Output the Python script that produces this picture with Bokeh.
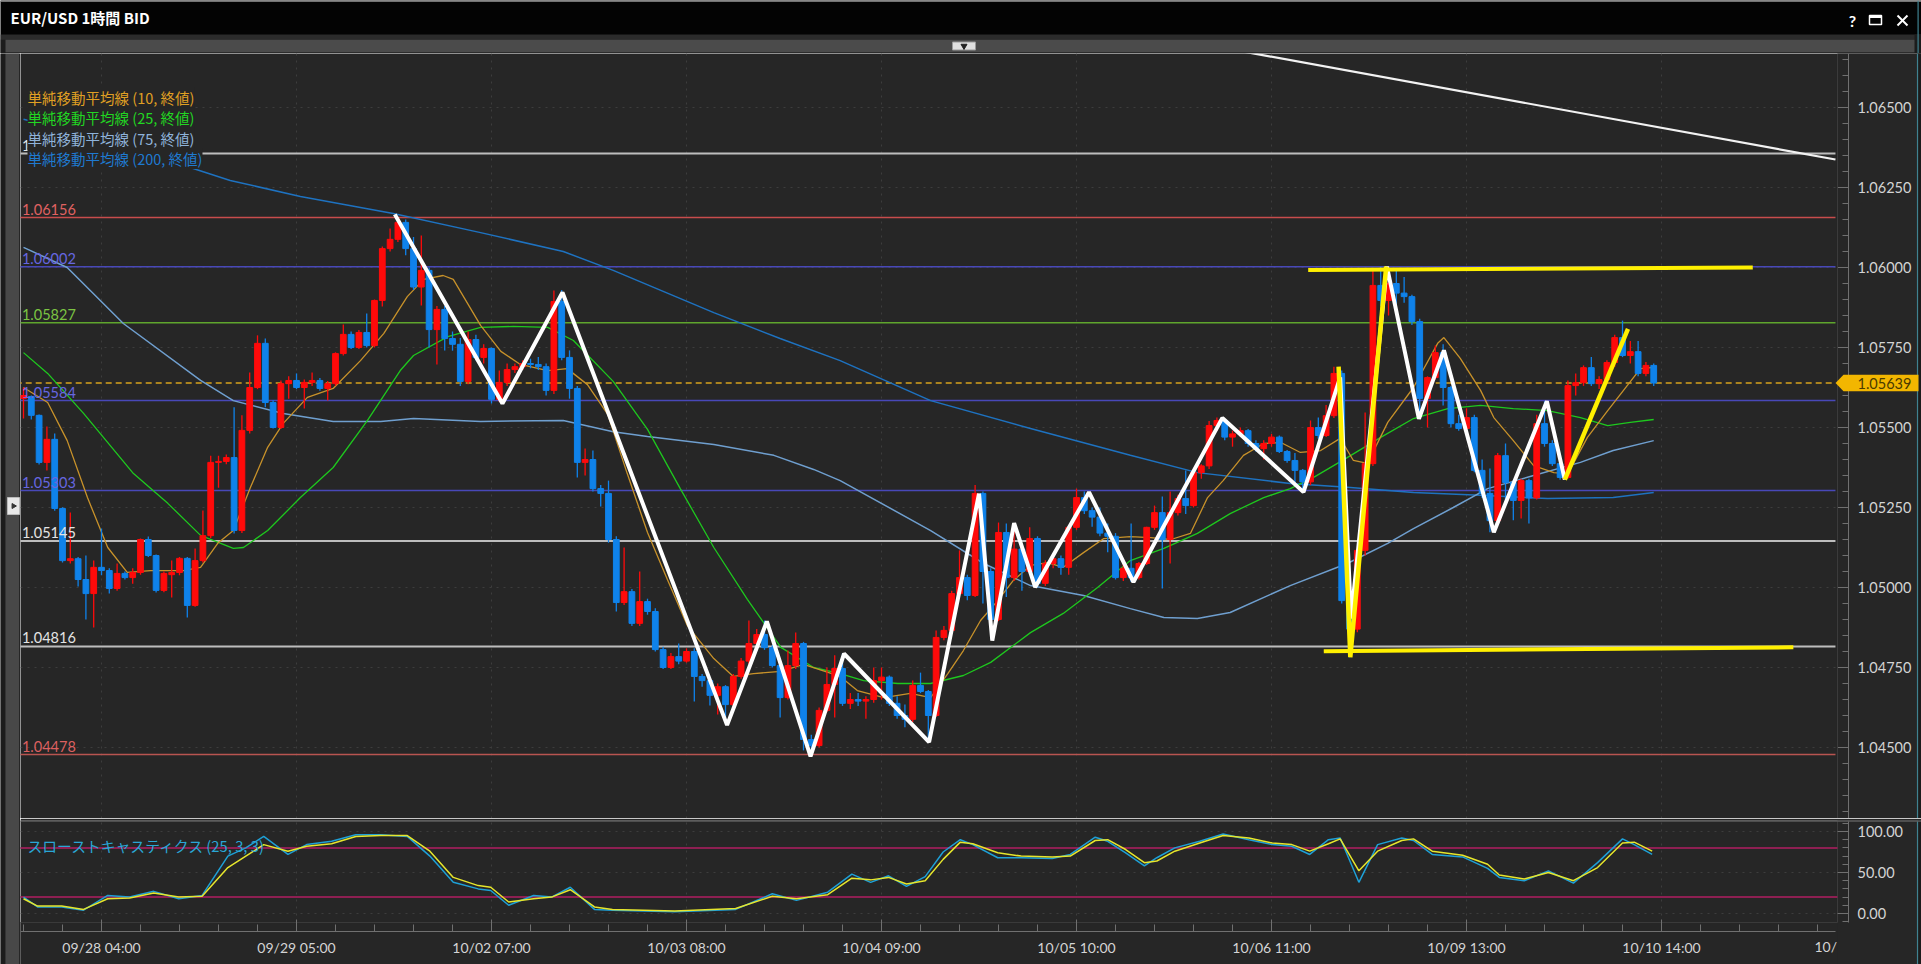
from math import pi
from bokeh.plotting import figure
from bokeh.models import (Range1d, Span, Label, PolyAnnotation, FixedTicker,
                          SingleIntervalTicker, PrintfTickFormatter, ColumnDataSource)
from bokeh.layouts import column, row
from bokeh.embed import file_html
from bokeh.resources import INLINE
from bokeh.core.properties import value

# ---------------- data ----------------
title_text = "EUR/USD 1時間 BID"

open_ = [
 1.05591, 1.05597, 1.05538, 1.05391, 1.05463, 1.05247, 1.05084, 1.05090, 1.05025, 1.04981,
 1.05063, 1.05053, 1.04997, 1.05044, 1.05031, 1.05047, 1.05150, 1.05100, 1.04991, 1.05040,
 1.05047, 1.05091, 1.04944, 1.05084, 1.05162, 1.05391, 1.05394, 1.05406, 1.05178, 1.05491,
 1.05625, 1.05763, 1.05578, 1.05500, 1.05637, 1.05647, 1.05625, 1.05641, 1.05647, 1.05622,
 1.05637, 1.05731, 1.05791, 1.05750, 1.05797, 1.05756, 1.05897, 1.06059, 1.06088, 1.06141,
 1.06059, 1.05939, 1.05991, 1.05806, 1.05869, 1.05778, 1.05760, 1.05644, 1.05775, 1.05719,
 1.05747, 1.05588, 1.05641, 1.05681, 1.05690, 1.05700, 1.05697, 1.05690, 1.05616, 1.05894,
 1.05719, 1.05622, 1.05391, 1.05400, 1.05309, 1.05294, 1.05150, 1.04953, 1.04987, 1.04888,
 1.04956, 1.04925, 1.04806, 1.04750, 1.04784, 1.04770, 1.04800, 1.04722, 1.04709, 1.04663,
 1.04690, 1.04634, 1.04722, 1.04770, 1.04825, 1.04853, 1.04812, 1.04756, 1.04656, 1.04756,
 1.04825, 1.04525, 1.04506, 1.04616, 1.04697, 1.04747, 1.04638, 1.04650, 1.04645, 1.04650,
 1.04709, 1.04720, 1.04638, 1.04600, 1.04588, 1.04694, 1.04675, 1.04600, 1.04844, 1.04866,
 1.04981, 1.05031, 1.04975, 1.05294, 1.05050, 1.04900, 1.05172, 1.05031, 1.05120, 1.05050,
 1.05153, 1.05013, 1.05075, 1.05090, 1.05063, 1.05188, 1.05281, 1.05240, 1.05220, 1.05170,
 1.05160, 1.05031, 1.05060, 1.05031, 1.05075, 1.05188, 1.05234, 1.05150, 1.05234, 1.05278,
 1.05256, 1.05359, 1.05380, 1.05506, 1.05522, 1.05470, 1.05480, 1.05490, 1.05450, 1.05434,
 1.05450, 1.05470, 1.05425, 1.05397, 1.05366, 1.05330, 1.05500, 1.05475, 1.05537, 1.05669,
 1.04959, 1.04870, 1.05116, 1.05387, 1.05944, 1.05897, 1.05950, 1.05920, 1.05909, 1.05831,
 1.05591, 1.05656, 1.05734, 1.05625, 1.05512, 1.05497, 1.05531, 1.05366, 1.05294, 1.05209,
 1.05412, 1.05328, 1.05272, 1.05334, 1.05280, 1.05512, 1.05450, 1.05387, 1.05344, 1.05631,
 1.05640, 1.05687, 1.05637, 1.05650, 1.05703, 1.05781, 1.05725, 1.05737, 1.05669, 1.05694]

high = [
 1.05625, 1.05600, 1.05541, 1.05503, 1.05481, 1.05251, 1.05234, 1.05095, 1.05100, 1.05084,
 1.05184, 1.05060, 1.05075, 1.05050, 1.05060, 1.05153, 1.05159, 1.05103, 1.05050, 1.05084,
 1.05095, 1.05095, 1.05122, 1.05241, 1.05412, 1.05412, 1.05416, 1.05563, 1.05538, 1.05672,
 1.05788, 1.05778, 1.05585, 1.05647, 1.05660, 1.05669, 1.05650, 1.05672, 1.05655, 1.05645,
 1.05735, 1.05822, 1.05800, 1.05805, 1.05856, 1.05900, 1.06066, 1.06122, 1.06156, 1.06150,
 1.06095, 1.06100, 1.06000, 1.05880, 1.05880, 1.05800, 1.05780, 1.05800, 1.05790, 1.05760,
 1.05750, 1.05678, 1.05700, 1.05700, 1.05710, 1.05715, 1.05720, 1.05700, 1.05928, 1.05930,
 1.05741, 1.05630, 1.05434, 1.05428, 1.05320, 1.05334, 1.05160, 1.05125, 1.04995, 1.05050,
 1.04965, 1.04935, 1.04815, 1.04795, 1.04825, 1.04810, 1.04810, 1.04730, 1.04715, 1.04700,
 1.04695, 1.04730, 1.04780, 1.04897, 1.04870, 1.04897, 1.04820, 1.04760, 1.04803, 1.04859,
 1.04830, 1.04540, 1.04625, 1.04750, 1.04788, 1.04794, 1.04670, 1.04670, 1.04660, 1.04750,
 1.04750, 1.04725, 1.04660, 1.04634, 1.04709, 1.04734, 1.04680, 1.04866, 1.04880, 1.04990,
 1.05116, 1.05040, 1.05320, 1.05300, 1.05060, 1.05203, 1.05200, 1.05201, 1.05130, 1.05188,
 1.05160, 1.05085, 1.05100, 1.05100, 1.05190, 1.05309, 1.05300, 1.05250, 1.05250, 1.05200,
 1.05170, 1.05080, 1.05200, 1.05080, 1.05190, 1.05256, 1.05284, 1.05300, 1.05290, 1.05366,
 1.05365, 1.05385, 1.05520, 1.05531, 1.05525, 1.05490, 1.05500, 1.05495, 1.05460, 1.05460,
 1.05480, 1.05475, 1.05430, 1.05420, 1.05370, 1.05522, 1.05531, 1.05570, 1.05690, 1.05678,
 1.04970, 1.05120, 1.05547, 1.05990, 1.06002, 1.05990, 1.05990, 1.05970, 1.05915, 1.05840,
 1.05660, 1.05756, 1.05760, 1.05630, 1.05540, 1.05560, 1.05540, 1.05400, 1.05372, 1.05420,
 1.05450, 1.05335, 1.05340, 1.05340, 1.05540, 1.05582, 1.05460, 1.05400, 1.05647, 1.05669,
 1.05694, 1.05720, 1.05660, 1.05710, 1.05790, 1.05834, 1.05770, 1.05770, 1.05705, 1.05700]

low = [
 1.05528, 1.05525, 1.05384, 1.05366, 1.05240, 1.05078, 1.05075, 1.05003, 1.04900, 1.04875,
 1.05038, 1.04981, 1.04990, 1.05025, 1.05012, 1.05040, 1.05095, 1.04984, 1.04985, 1.04969,
 1.05038, 1.04906, 1.04940, 1.05078, 1.05155, 1.05312, 1.05385, 1.05169, 1.05170, 1.05481,
 1.05620, 1.05563, 1.05497, 1.05495, 1.05590, 1.05620, 1.05559, 1.05630, 1.05615, 1.05584,
 1.05630, 1.05725, 1.05745, 1.05745, 1.05750, 1.05750, 1.05878, 1.06050, 1.06080, 1.06038,
 1.05930, 1.05881, 1.05750, 1.05697, 1.05741, 1.05740, 1.05630, 1.05635, 1.05710, 1.05700,
 1.05575, 1.05580, 1.05630, 1.05670, 1.05680, 1.05685, 1.05680, 1.05600, 1.05605, 1.05710,
 1.05590, 1.05344, 1.05350, 1.05300, 1.05253, 1.05140, 1.04925, 1.04945, 1.04880, 1.04880,
 1.04915, 1.04800, 1.04745, 1.04745, 1.04760, 1.04765, 1.04644, 1.04690, 1.04631, 1.04603,
 1.04590, 1.04625, 1.04715, 1.04760, 1.04815, 1.04805, 1.04750, 1.04594, 1.04650, 1.04745,
 1.04491, 1.04478, 1.04500, 1.04610, 1.04594, 1.04630, 1.04620, 1.04630, 1.04590, 1.04640,
 1.04650, 1.04630, 1.04590, 1.04563, 1.04580, 1.04670, 1.04520, 1.04595, 1.04835, 1.04860,
 1.04975, 1.04960, 1.04970, 1.04950, 1.04840, 1.04895, 1.04970, 1.05020, 1.04990, 1.05040,
 1.05000, 1.05005, 1.05060, 1.05040, 1.05040, 1.05180, 1.05230, 1.05190, 1.05160, 1.05110,
 1.05025, 1.05020, 1.05017, 1.05025, 1.05070, 1.05180, 1.04997, 1.05075, 1.05225, 1.05230,
 1.05250, 1.05340, 1.05370, 1.05490, 1.05460, 1.05440, 1.05470, 1.05440, 1.05425, 1.05400,
 1.05440, 1.05420, 1.05390, 1.05325, 1.05300, 1.05320, 1.05465, 1.05470, 1.05530, 1.04950,
 1.04782, 1.04860, 1.05100, 1.05380, 1.05880, 1.05850, 1.05880, 1.05890, 1.05820, 1.05527,
 1.05500, 1.05650, 1.05569, 1.05500, 1.05490, 1.05480, 1.05360, 1.05280, 1.05173, 1.05200,
 1.05262, 1.05210, 1.05216, 1.05200, 1.05275, 1.05440, 1.05380, 1.05337, 1.05340, 1.05600,
 1.05630, 1.05630, 1.05620, 1.05640, 1.05690, 1.05720, 1.05700, 1.05660, 1.05660, 1.05630]

close = [
 1.05600, 1.05538, 1.05391, 1.05463, 1.05247, 1.05084, 1.05090, 1.05025, 1.04981, 1.05063,
 1.05053, 1.04997, 1.05044, 1.05031, 1.05047, 1.05150, 1.05100, 1.04991, 1.05044, 1.05047,
 1.05091, 1.04944, 1.05084, 1.05162, 1.05391, 1.05394, 1.05406, 1.05178, 1.05491, 1.05625,
 1.05763, 1.05578, 1.05500, 1.05637, 1.05647, 1.05625, 1.05641, 1.05647, 1.05622, 1.05637,
 1.05731, 1.05791, 1.05750, 1.05797, 1.05756, 1.05897, 1.06059, 1.06088, 1.06141, 1.06059,
 1.05939, 1.05991, 1.05806, 1.05869, 1.05778, 1.05760, 1.05644, 1.05775, 1.05719, 1.05747,
 1.05588, 1.05641, 1.05681, 1.05690, 1.05700, 1.05697, 1.05690, 1.05616, 1.05894, 1.05719,
 1.05622, 1.05391, 1.05400, 1.05309, 1.05294, 1.05150, 1.04953, 1.04987, 1.04888, 1.04956,
 1.04925, 1.04806, 1.04750, 1.04784, 1.04770, 1.04800, 1.04722, 1.04709, 1.04663, 1.04690,
 1.04634, 1.04722, 1.04770, 1.04825, 1.04853, 1.04812, 1.04756, 1.04656, 1.04756, 1.04825,
 1.04525, 1.04506, 1.04616, 1.04697, 1.04747, 1.04638, 1.04650, 1.04645, 1.04650, 1.04709,
 1.04720, 1.04638, 1.04600, 1.04588, 1.04694, 1.04675, 1.04600, 1.04844, 1.04866, 1.04981,
 1.05031, 1.04975, 1.05294, 1.05050, 1.04900, 1.05172, 1.05031, 1.05120, 1.05050, 1.05153,
 1.05013, 1.05075, 1.05090, 1.05063, 1.05188, 1.05281, 1.05240, 1.05220, 1.05170, 1.05160,
 1.05031, 1.05060, 1.05031, 1.05075, 1.05188, 1.05234, 1.05150, 1.05234, 1.05278, 1.05256,
 1.05359, 1.05380, 1.05506, 1.05522, 1.05470, 1.05480, 1.05490, 1.05450, 1.05434, 1.05450,
 1.05470, 1.05425, 1.05397, 1.05366, 1.05330, 1.05500, 1.05475, 1.05537, 1.05669, 1.04959,
 1.04870, 1.05116, 1.05387, 1.05944, 1.05897, 1.05950, 1.05920, 1.05909, 1.05831, 1.05591,
 1.05656, 1.05734, 1.05625, 1.05512, 1.05497, 1.05531, 1.05366, 1.05294, 1.05209, 1.05412,
 1.05328, 1.05272, 1.05334, 1.05280, 1.05512, 1.05450, 1.05387, 1.05344, 1.05631, 1.05640,
 1.05687, 1.05637, 1.05650, 1.05703, 1.05781, 1.05725, 1.05737, 1.05669, 1.05694, 1.05639]

# moving averages (bar index, price)
sma10_bar = [0, 3.1, 5.6, 8.2, 10.8, 13.3, 16.3, 20.5, 22.7, 24.9, 26.9, 29.1, 31.3, 33.3, 36.4, 39.7,
             43.2, 46.2, 49.2, 51.3, 53.8, 55.1, 58.6, 61.2, 63.7, 67.2, 69.7, 72.3, 74.9, 77.4, 80,
             82.6, 85.1, 88.5, 91, 93.6, 97.1, 100, 104.7, 106.9, 110.3, 113.7, 116.3, 118.5, 120.5,
             122.7, 124.9, 126.9, 129.1, 131.3, 133.3, 135.9, 138.5, 141.9, 144.5, 147.1, 149.6,
             151.8, 153.8, 156.4, 159, 161.2, 163.7, 166.3, 168.8, 170.5, 172.3, 174.9, 178.2,
             181.3, 182.1, 184.2, 186.8, 188.5, 191, 193.6, 196.2, 198, 200.5, 203.1, 205.6, 207.3, 209]
sma10 = [1.05625, 1.05578, 1.05459, 1.05281, 1.05125, 1.05047, 1.05053, 1.05053, 1.05063, 1.05138,
         1.05178, 1.05313, 1.05438, 1.05513, 1.05594, 1.05622, 1.05709, 1.05794, 1.05909, 1.05963,
         1.05975, 1.05963, 1.05819, 1.05738, 1.05697, 1.05678, 1.05684, 1.05634, 1.05541, 1.05356,
         1.05172, 1.05022, 1.04881, 1.04778, 1.04722, 1.04731, 1.04738, 1.04760, 1.04722, 1.04678,
         1.04656, 1.04669, 1.04656, 1.04731, 1.04803, 1.04897, 1.04959, 1.05022, 1.05069, 1.05078,
         1.05063, 1.05109, 1.05153, 1.05159, 1.05156, 1.05150, 1.05169, 1.05281, 1.05334, 1.05413,
         1.05450, 1.05453, 1.05422, 1.05428, 1.05466, 1.05397, 1.05388, 1.05516, 1.05625, 1.05763,
         1.05781, 1.05716, 1.05616, 1.05531, 1.05459, 1.05381, 1.05359, 1.05356, 1.05469, 1.05553,
         1.05631, 1.05684, 1.05688]

sma25_bar = [0, 3.1, 7.7, 14.1, 18.5, 22.7, 26.9, 28.2, 31.3, 35.5, 39.7, 44.1, 48.3, 50, 54.4, 58.6,
             62.8, 67.2, 70.5, 75.6, 80, 84.2, 88.5, 92.8, 97.1, 101.3, 104.7, 107.7, 112.1, 116.3,
             120.5, 124, 129.1, 133.3, 137.7, 141.9, 146.2, 150.5, 154.7, 159, 162.4, 165.4, 169.7,
             174, 178.2, 182.6, 186.8, 191, 195.4, 199.6, 203.1, 206, 209]
sma25 = [1.05734, 1.05669, 1.05544, 1.05356, 1.05263, 1.05163, 1.05122, 1.05125, 1.05178, 1.05281,
         1.05375, 1.05522, 1.05678, 1.05725, 1.05784, 1.05813, 1.05816, 1.05813, 1.05772, 1.05644,
         1.05494, 1.05309, 1.05125, 1.04963, 1.04813, 1.04750, 1.04731, 1.04709, 1.04700, 1.04700,
         1.04725, 1.04766, 1.04859, 1.04919, 1.05000, 1.05084, 1.05122, 1.05169, 1.05231, 1.05281,
         1.05309, 1.05344, 1.05406, 1.05469, 1.05528, 1.05559, 1.05569, 1.05559, 1.05553, 1.05531,
         1.05506, 1.05516, 1.05525]

sma75_bar = [0, 5.6, 12.8, 22.7, 26.9, 33.3, 39.7, 45.8, 50, 58.6, 69.2, 75.6, 80, 88.5, 96.2, 101.3,
             104.7, 116.3, 123.1, 129.1, 135.9, 141.9, 146.2, 150.5, 154.7, 162.4, 169.7, 174.9,
             178.2, 183.3, 187.7, 193.6, 199.6, 203.8, 209]
sma75 = [1.06063, 1.06000, 1.05825, 1.05647, 1.05584, 1.05544, 1.05519, 1.05519, 1.05528, 1.05519,
         1.05522, 1.05487, 1.05472, 1.05447, 1.05413, 1.05369, 1.05334, 1.05178, 1.05075, 1.05006,
         1.04975, 1.04934, 1.04906, 1.04903, 1.04922, 1.05006, 1.05075, 1.05138, 1.05184, 1.05250,
         1.05309, 1.05350, 1.05391, 1.05428, 1.05459]

sma200_bar = [0, 9.9, 26.5, 35.5, 47.4, 58.6, 69.2, 75.6, 88.5, 97, 104.7, 116.3, 129.1, 141.9, 150.5,
              162.4, 169.7, 178.2, 186.8, 195.4, 203.8, 209]
sma200 = [1.06463, 1.06403, 1.06272, 1.06222, 1.06169, 1.06109, 1.06050, 1.05991, 1.05859, 1.05778,
          1.05709, 1.05584, 1.05497, 1.05413, 1.05359, 1.05325, 1.05313, 1.05297, 1.05288, 1.05278,
          1.05281, 1.05297]

# slow stochastics (25,3,3)
stoch_bar = [0, 1.8, 4.9, 7.7, 10.8, 13.6, 16.7, 19.9, 22.9, 26.2, 28.5, 30.8, 33.9, 36.3, 39.5,
             42.6, 45.8, 49.2, 52.1, 55.1, 58.3, 59.9, 62.2, 65.4, 67.7, 70.1, 73.2, 75.5, 83.5,
             91.3, 96, 99.1, 103.1, 106.2, 108.6, 110.9, 113.2, 115.6, 117.9, 120.1, 121.7, 124.9,
             127.9, 131.9, 134.2, 137.4, 139, 141.3, 143.7, 145.3, 147.6, 150.8, 153.8, 157.1,
             160.1, 162.6, 164.9, 167.3, 168.8, 171.2, 173.6, 176.7, 178.2, 180.6, 184.5, 187.7,
             189.2, 192.4, 195.5, 198.7, 201.8, 205, 206.5, 208.8]
stoch_d = [18, 9, 9, 5, 18, 19, 25, 20, 21, 56, 70, 84, 76, 82, 85, 94, 95, 95, 76, 44,
           34, 32, 14, 18, 20, 29, 8, 5, 3, 6, 21, 18, 23, 43, 41, 44, 36, 40, 66, 87,
           85, 74, 70, 69, 70, 89, 90, 78, 62, 64, 76, 86, 95, 92, 86, 84, 76, 85, 91, 52,
           76, 89, 91, 76, 71, 60, 47, 42, 50, 40, 56, 86, 87, 76]
stoch_k = [20, 8, 8, 4, 22, 20, 27, 18, 22, 70, 80, 94, 72, 84, 88, 96, 96, 94, 70, 38,
           30, 28, 10, 22, 20, 32, 5, 4, 2, 5, 24, 16, 26, 48, 38, 46, 33, 45, 75, 90,
           84, 68, 68, 67, 72, 93, 88, 74, 58, 68, 80, 88, 97, 90, 84, 82, 72, 90, 92, 38,
           84, 92, 89, 72, 69, 55, 44, 40, 52, 37, 62, 91, 84, 72]

# horizontal price levels
levels = [1.06356, 1.06156, 1.06002, 1.05827, 1.05584, 1.05303, 1.05145, 1.04816, 1.04478]
level_line_colors = ["#bdbdbd", "#c84c4c", "#4848b8", "#5fa52d", "#4848b8", "#4848b8",
                     "#bdbdbd", "#bdbdbd", "#b85450"]
level_text_colors = ["#e4e4e4", "#e06262", "#6767e0", "#7cc443", "#6767e0", "#6767e0",
                     "#e4e4e4", "#e4e4e4", "#dc6060"]
current_price = 1.05639

# hand-drawn annotations (bar index, price)
white_zz_bar = [47.6, 61.4, 69.1, 90.2, 95.3, 100.9, 105.2, 116.1, 122.5, 124.2, 127.0, 129.7,
                136.6, 142.3, 153.7, 164.1, 168.8, 170.2, 174.8, 178.9, 182.1, 188.5, 195.3, 197.6]
white_zz_px = [1.06166, 1.05575, 1.05922, 1.04570, 1.04894, 1.04472, 1.04793, 1.04517, 1.05293,
               1.04834, 1.05201, 1.05001, 1.05298, 1.05017, 1.05530, 1.05298, 1.05657, 1.04903,
               1.06003, 1.05527, 1.05741, 1.05173, 1.05582, 1.05337]
yellow_zz_bar = [168.6, 170.1, 174.7]
yellow_zz_px = [1.05690, 1.04782, 1.06003]
yellow_up_bar = [197.6, 205.7]
yellow_up_px = [1.05337, 1.05808]
yellow_top_bar = [164.7, 221.7]
yellow_top_px = [1.05992, 1.06000]
yellow_bot_bar = [166.7, 226.9]
yellow_bot_px = [1.04801, 1.04813]
trend_bar = [153.5, 232.3]
trend_px = [1.066875, 1.063375]

tick_bars = [10, 35, 60, 85, 110, 135, 160, 185, 210]
time_labels = ["09/28 04:00", "09/29 05:00", "10/02 07:00", "10/03 08:00", "10/04 09:00",
               "10/05 10:00", "10/06 11:00", "10/09 13:00", "10/10 14:00"]
clipped_label = "10/"

legend_texts = ["単純移動平均線 (10, 終値)", "単純移動平均線 (25, 終値)",
                "単純移動平均線 (75, 終値)", "単純移動平均線 (200, 終値)"]
ma_colors = ["#c8922a", "#1ec81e", "#6f9fcf", "#1e72c0"]
legend_colors = ["#e0a023", "#22d622", "#8fb3da", "#1f7ad0"]
stoch_title = "スローストキャスティクス (25, 3, 3)"

# ---------------- styling ----------------
BG = "#262626"
GRID = "#3d3d3d"
AX = "#707070"
LBL = "#d4d4d4"
LATO = "Lato"
JP = "Noto Sans CJK JP"
PLOT_END = 232.3      # right end of the drawing area (bars)
AXIS_AT = 233.97      # bar position of the price-axis line
X_MAX = 243.33        # right edge of the window (bars)
EDGE = 242.82         # window border line

# ---------------- header ----------------
hdr = figure(width=1921, height=53, x_range=Range1d(0, 1921), y_range=Range1d(53, 0),
             toolbar_location=None, output_backend="svg", x_axis_location=None,
             y_axis_location=None, min_border=0)
hdr.grid.visible = False
hdr.background_fill_color = "#030303"
hdr.border_fill_color = "#030303"
hdr.outline_line_color = None
hdr.quad(left=0, right=1921, top=0, bottom=1.2, fill_color="#9a9a9a", line_color=None)
hdr.quad(left=0, right=1921, top=34, bottom=39, fill_color="#2b2b2b", line_color=None)
hdr.quad(left=0, right=1921, top=39, bottom=52, fill_color="#4b4b4b", line_color=None)
hdr.quad(left=0, right=1921, top=52, bottom=53, fill_color="#333333", line_color=None)
hdr.quad(left=0, right=5, top=39, bottom=53, fill_color="#1c1c1c", line_color=None)
hdr.quad(left=1914, right=1921, top=34, bottom=53, fill_color="#1c1c1c", line_color=None)
hdr.quad(left=1917, right=1918.2, top=0, bottom=53, fill_color="#3f8290", line_color=None)
hdr.text(x=[10], y=[17], text=[title_text], text_font=value(JP), text_font_style="bold",
         text_font_size="15px", text_color="#ffffff", text_baseline="middle")
hdr.text(x=[1852], y=[20], text=["?"], text_font=value(LATO), text_font_style="bold",
         text_font_size="16px", text_color="#ffffff", text_baseline="middle", text_align="center")
hdr.quad(left=1869, right=1881, top=15, bottom=24, fill_color=None, line_color="#ffffff",
         line_width=1.5)
hdr.quad(left=1869, right=1881, top=15, bottom=17.5, fill_color="#ffffff", line_color=None)
hdr.segment(x0=[1897, 1897], y0=[15, 25], x1=[1907, 1907], y1=[25, 15], line_color="#ffffff",
            line_width=2)
hdr.quad(left=952, right=975, top=41.5, bottom=49.5, fill_color="#e0e0e0", line_color="#9a9a9a")
hdr.scatter(x=[963.5], y=[45.5], marker="inverted_triangle", size=6, color="#222222")

# ---------------- left strip ----------------
strip = figure(width=20, height=911, x_range=Range1d(0, 20), y_range=Range1d(964, 53),
               toolbar_location=None, output_backend="svg", x_axis_location=None,
               y_axis_location=None, min_border=0)
strip.grid.visible = False
strip.background_fill_color = BG
strip.border_fill_color = BG
strip.outline_line_color = None
strip.quad(left=0, right=5, top=53, bottom=964, fill_color="#1c1c1c", line_color=None)
strip.quad(left=5, right=18.5, top=53, bottom=964, fill_color="#484848", line_color=None)
strip.quad(left=7, right=19, top=497, bottom=514, fill_color="#e8e8e8", line_color="#bbbbbb")
strip.scatter(x=[13], y=[505.5], marker="triangle", angle=-pi / 2, size=5, color="#333333")

# ---------------- price pane ----------------
x_rng = Range1d(-0.385, X_MAX)
p = figure(width=1901, height=765, x_range=x_rng, y_range=Range1d(1.0427813, 1.0666875),
           toolbar_location=None, output_backend="svg", x_axis_location=None,
           y_axis_location="right", min_border=0)
p.background_fill_color = BG
p.border_fill_color = BG
p.outline_line_color = None
p.xgrid.ticker = FixedTicker(ticks=tick_bars)
for g in (p.xgrid, p.ygrid):
    g.grid_line_color = GRID
    g.grid_line_dash = "2 5"
    g.grid_line_width = 1
ax = p.yaxis[0]
ax.fixed_location = AXIS_AT
ax.ticker = SingleIntervalTicker(interval=0.0025, num_minor_ticks=5)
ax.formatter = PrintfTickFormatter(format="%.5f")
ax.axis_line_color = AX
ax.major_tick_line_color = AX
ax.minor_tick_line_color = AX
ax.major_tick_in = 11
ax.major_tick_out = 0
ax.minor_tick_in = 6
ax.minor_tick_out = 0
ax.major_label_standoff = 9
ax.major_label_text_color = LBL
ax.major_label_text_font = LATO
ax.major_label_text_font_size = "14.5px"

# mask the axis strip from grid lines, window border at the far right
p.quad(left=PLOT_END + 0.3, right=X_MAX + 1, bottom=1.04, top=1.07, fill_color=BG, line_color=None)
p.quad(left=EDGE, right=X_MAX + 1, bottom=1.04, top=1.07, fill_color="#1c1c1c", line_color=None)
p.add_layout(Span(location=EDGE, dimension="height", line_color="#3f8290", line_width=1.2))
p.add_layout(Span(location=232.56, dimension="height", line_color="#3c3c3c", line_width=1))

# horizontal levels
n_lv = len(levels)
lv_src = ColumnDataSource(dict(x0=[-1.0] * n_lv, x1=[PLOT_END] * n_lv, y=levels,
                               lc=level_line_colors, tc=level_text_colors,
                               lab=["%.5f" % v for v in levels],
                               lw=[2 if c == "#bdbdbd" else 1.5 for c in level_line_colors],
                               tx=[-0.2] * n_lv))
p.segment(x0="x0", y0="y", x1="x1", y1="y", line_color="lc", line_width="lw", source=lv_src)
p.segment(x0=[-1.0], y0=[current_price], x1=[PLOT_END], y1=[current_price],
          line_color="#d6a21c", line_width=1.5, line_dash="6 4")

# moving averages
p.line(sma200_bar, sma200, line_color=ma_colors[3], line_width=1.5)
p.line(sma75_bar, sma75, line_color=ma_colors[2], line_width=1.5)
p.line(sma25_bar, sma25, line_color=ma_colors[1], line_width=1.3)
p.line(sma10_bar, sma10, line_color=ma_colors[0], line_width=1.3)

# candles
idx = list(range(len(close)))
up = [c >= o for o, c in zip(open_, close)]
cols = ["#ff0a0a" if u else "#0f82ea" for u in up]
cd = ColumnDataSource(dict(x=idx, h=high, l=low, top=[max(o, c) for o, c in zip(open_, close)],
                           bot=[min(o, c) for o, c in zip(open_, close)], c=cols))
p.segment(x0="x", y0="h", x1="x", y1="l", line_color="c", line_width=1.3, source=cd)
p.vbar(x="x", width=0.74, top="top", bottom="bot", fill_color="c", line_color="c",
       line_width=1, source=cd)

# level labels
p.text(x="tx", y="y", text="lab", text_color="tc", text_font=value(LATO), text_font_size="14.5px",
       text_baseline="bottom", y_offset=-3, source=lv_src)

# drawn annotations
p.line(trend_bar, trend_px, line_color="#f2f2f2", line_width=2.2)
p.line(white_zz_bar, white_zz_px, line_color="#ffffff", line_width=4)
p.line(yellow_zz_bar, yellow_zz_px, line_color="#fff000", line_width=4.5)
p.line(yellow_up_bar, yellow_up_px, line_color="#fff000", line_width=4.5)
p.line(yellow_top_bar, yellow_top_px, line_color="#fff000", line_width=4)
p.line(yellow_bot_bar, yellow_bot_px, line_color="#fff000", line_width=4)

# legend of moving averages
for k, (t, c) in enumerate(zip(legend_texts, legend_colors)):
    p.add_layout(Label(x=7, y=818 - (97 + 20.3 * k), x_units="screen", y_units="screen", text=t,
                       text_color=c, text_font=JP, text_font_size="14.5px",
                       text_baseline="middle", background_fill_color=BG,
                       background_fill_alpha=1.0))

# current price tag on the axis
tag_h = 0.00026
p.add_layout(PolyAnnotation(xs=[1815, 1823, 1898, 1898, 1823],
                            ys=[current_price, current_price + tag_h, current_price + tag_h,
                                current_price - tag_h, current_price - tag_h],
                            xs_units="screen", ys_units="data", fill_color="#f2b600",
                            fill_alpha=1.0, line_color=None))
p.add_layout(Label(x=1837, y=current_price, x_units="screen", y_units="data",
                   text="%.5f" % current_price, text_color="#4a3b00", text_font=LATO,
                   text_font_size="14.5px", text_baseline="middle"))

# ---------------- stochastic pane ----------------
s = figure(width=1901, height=146, x_range=x_rng, y_range=Range1d(-62.2, 113.4),
           toolbar_location=None, output_backend="svg", x_axis_location="below",
           y_axis_location="right", min_border=0, min_border_top=2)
s.background_fill_color = BG
s.border_fill_color = BG
s.outline_line_color = None
s.xgrid.ticker = FixedTicker(ticks=tick_bars)
for g in (s.xgrid, s.ygrid):
    g.grid_line_color = GRID
    g.grid_line_dash = "2 5"
sy = s.yaxis[0]
sy.fixed_location = AXIS_AT
sy.bounds = (-11, 113.4)
sy.ticker = SingleIntervalTicker(interval=50, num_minor_ticks=5)
sy.formatter = PrintfTickFormatter(format="%.2f")
sx = s.xaxis[0]
sx.fixed_location = -22
sx.bounds = (-0.385, PLOT_END)
sx.ticker = FixedTicker(ticks=tick_bars, minor_ticks=list(range(0, 233, 5)))
sx.major_label_overrides = {t: lab for t, lab in zip(tick_bars, time_labels)}
for a in (sy, sx):
    a.axis_line_color = AX
    a.major_tick_line_color = AX
    a.minor_tick_line_color = AX
    a.major_tick_out = 0
    a.minor_tick_out = 0
    a.major_label_text_color = LBL
    a.major_label_text_font = LATO
    a.major_label_text_font_size = "14px"
sy.major_label_text_font_size = "14.5px"
sy.major_tick_in = 11
sy.minor_tick_in = 6
sy.major_label_standoff = 9
sx.major_tick_in = 12
sx.minor_tick_in = 7
sx.major_label_standoff = 7

s.quad(left=-1, right=X_MAX + 1, bottom=-70, top=-11, fill_color=BG, line_color=None)
s.quad(left=PLOT_END + 0.3, right=X_MAX + 1, bottom=-70, top=120, fill_color=BG, line_color=None)
s.quad(left=EDGE, right=X_MAX + 1, bottom=-70, top=120, fill_color="#1c1c1c", line_color=None)
s.add_layout(Span(location=EDGE, dimension="height", line_color="#3f8290", line_width=1.2))
s.segment(x0=[-1], y0=[-11], x1=[PLOT_END + 0.26], y1=[-11], line_color="#3a3a3a", line_width=1)
s.segment(x0=[232.56], y0=[-11], x1=[232.56], y1=[113.4], line_color="#3c3c3c", line_width=1)
s.add_layout(Span(location=113.0, dimension="width", line_color="#5e5e5e", line_width=2))
s.segment(x0=[-1, -1], y0=[80, 20], x1=[PLOT_END + 0.26] * 2, y1=[80, 20],
          line_color="#8e1f52", line_width=2)
s.line(stoch_bar, stoch_k, line_color="#1ea0d6", line_width=1.5)
s.line(stoch_bar, stoch_d, line_color="#e6e62c", line_width=1.5)
s.add_layout(Label(x=7, y=119, x_units="screen", y_units="screen", text=stoch_title,
                   text_color="#2aa6d6", text_font=JP, text_font_size="14.8px",
                   text_baseline="middle"))
s.add_layout(Label(x=1794, y=18, x_units="screen", y_units="screen", text=clipped_label,
                   text_color=LBL, text_font=LATO, text_font_size="14px",
                   text_baseline="middle"))

layout = column(hdr, row(strip, column(p, s)))
open("out.html", "w").write(file_html(layout, INLINE))
